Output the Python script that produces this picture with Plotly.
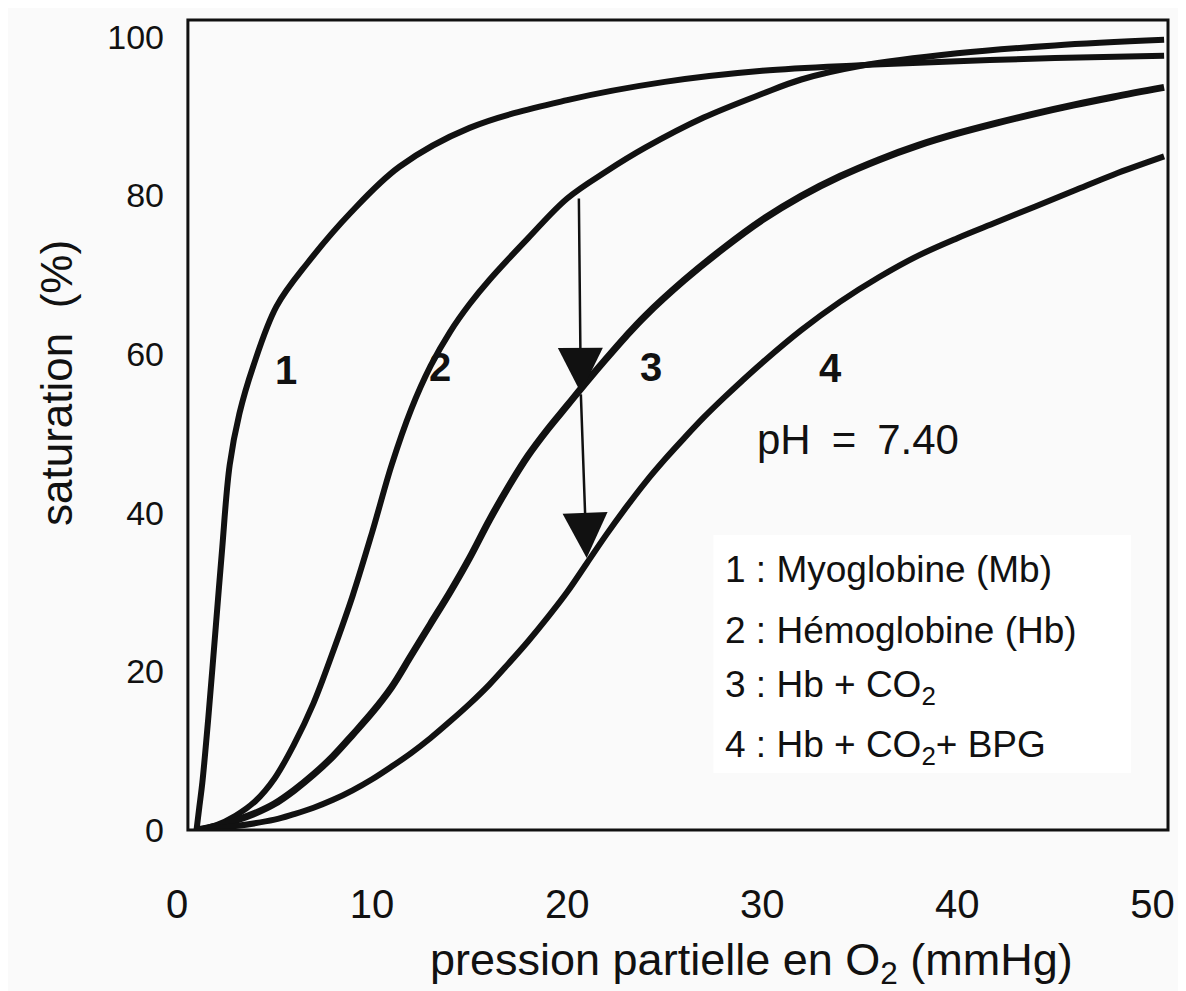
import plotly.graph_objects as go

# ---- data ----
mb_p = [1.0, 1.15, 1.3, 1.6, 2.0, 2.3, 2.7, 3.2, 3.9, 5.1, 6.7, 8.9, 11.4, 15, 20, 25, 30, 35, 40, 45, 50.6]
mb_s = [0, 3, 6, 14, 26, 35, 46, 52.5, 58.4, 66, 71.5, 77.8, 83.6, 88.5, 92, 94.3, 95.7, 96.4, 96.9, 97.3, 97.6]

hb_p = [1, 2, 3, 4, 5, 6, 7, 8, 9, 10, 11, 12, 13, 14, 15, 16, 18, 20, 22, 24, 27, 30, 32, 35, 40, 45, 50.6]
hb_s = [0, 0.6, 1.8, 3.6, 6.5, 10.8, 16, 22.5, 29.5, 37.5, 46, 53, 58.5, 62.8, 66.3, 69.3, 74.6, 79.6, 83, 86, 89.8, 92.8, 94.6, 96.3, 97.9, 98.9, 99.6]

co2_p = [1, 2, 3, 4, 5, 6, 7, 8, 9, 10, 11, 12, 13, 14, 15, 16, 17, 18, 19, 20, 21, 22, 23, 24, 26, 28,
         30, 32, 34, 36, 38, 40, 42, 44, 46, 48, 50.6]
co2_s = [0, 0.5, 1.2, 2.1, 3.3, 5, 7, 9.3, 12, 14.8, 18, 22, 26, 30, 34.3, 39, 43.3, 47.2, 50.5, 53.5, 56.5, 59.4, 62.2,
         64.8, 69.3, 73.3, 76.9, 79.9, 82.4, 84.5, 86.3, 87.8, 89.1, 90.3, 91.4, 92.4, 93.6]

bpg_p = [1, 3, 5, 6, 7, 8, 9, 10, 11, 12, 13, 14, 15, 16, 17, 18, 19, 20, 21, 22, 23, 24, 25, 26, 27, 28, 29,
         30, 32, 34, 36, 38, 40, 42, 44, 46, 48, 50.6]
bpg_s = [0, 0.5, 1.3, 2, 2.8, 3.8, 5, 6.4, 8, 9.7, 11.6, 13.7, 15.9, 18.3, 21, 23.8, 26.8, 30, 33.6, 37.2, 40.6,
         43.8, 46.7, 49.4, 52, 54.4, 56.7, 58.9, 63, 66.6, 69.7, 72.4, 74.6, 76.6, 78.6, 80.6, 82.6, 84.9]

x_ticks = [0, 10, 20, 30, 40, 50]
y_ticks = [0, 20, 40, 60, 80, 100]

curve_labels = ["1", "2", "3", "4"]
curve_label_x = [5.6, 13.5, 24.3, 33.5]
curve_label_y = [58.0, 58.4, 58.3, 58.2]

legend_lines = ["1 : Myoglobine (Mb)", "2 : Hémoglobine (Hb)",
                "3 : Hb + CO<sub>2</sub>", "4 : Hb + CO<sub>2</sub>+ BPG"]
legend_y = [32.8, 25.2, 18.0, 10.5]
legend_x = 28.0

ph_text = "pH\u2002=\u20027.40"
ph_xy = (34.9, 49.2)

# arrows: (start x, start y, end x, end y)
arrows = [(20.6, 79.8, 20.7, 55.1), (20.7, 55.1, 21.0, 34.3)]

FONT = "Liberation Sans, Arial, Helvetica, sans-serif"
INK = "#111111"

fig = go.Figure()
for px, sv, w in [(mb_p, mb_s, 6), (hb_p, hb_s, 6), (co2_p, co2_s, 7), (bpg_p, bpg_s, 6)]:
    fig.add_trace(go.Scatter(x=px, y=sv, mode="lines",
                             line=dict(color=INK, width=w, shape="spline", smoothing=1.0),
                             showlegend=False, hoverinfo="skip"))

# legend box (white) and frame
fig.add_shape(type="rect", xref="x", yref="y", x0=27.5, x1=48.9, y0=7.2, y1=37.2,
              fillcolor="white", line=dict(width=0), layer="below")
fig.add_shape(type="rect", xref="paper", yref="paper", x0=0.011, x1=1, y0=0, y1=1,
              line=dict(color=INK, width=3), fillcolor="rgba(0,0,0,0)")

for t, lx, ly in zip(curve_labels, curve_label_x, curve_label_y):
    fig.add_annotation(x=lx, y=ly, text="<b>%s</b>" % t, showarrow=False,
                       font=dict(family=FONT, size=40, color=INK))

fig.add_annotation(x=ph_xy[0], y=ph_xy[1], text=ph_text, showarrow=False,
                   font=dict(family=FONT, size=42, color=INK))

for t, ly in zip(legend_lines, legend_y):
    fig.add_annotation(x=legend_x, y=ly, text=t, showarrow=False, xanchor="left",
                       font=dict(family=FONT, size=37, color=INK))

for (x0, y0, x1, y1) in arrows:
    fig.add_annotation(x=x1, y=y1, ax=x0, ay=y0, xref="x", yref="y", axref="x", ayref="y",
                       text="", showarrow=True, arrowhead=2, arrowsize=3.6, arrowwidth=2.5,
                       arrowcolor=INK, standoff=0)

# axis titles as annotations (offset as in the reference)
fig.add_annotation(xref="paper", yref="paper", x=0.58, y=-0.163, xanchor="center", yanchor="middle",
                   text="pression partielle en O<sub>2</sub> (mmHg)", showarrow=False,
                   font=dict(family=FONT, size=45, color=INK))
fig.add_annotation(xref="paper", yref="paper", x=-0.121, y=0.552, xanchor="center", yanchor="middle",
                   textangle=-90, text="saturation\u00a0\u00a0(%)", showarrow=False,
                   font=dict(family=FONT, size=44, color=INK))

fig.update_xaxes(range=[0, 50.8], tickvals=x_ticks, ticktext=[str(v) for v in x_ticks],
                 showgrid=False, zeroline=False, showline=False, ticks="", automargin=False,
                 tickfont=dict(family=FONT, size=40, color=INK), ticklabelstandoff=47)
fig.update_yaxes(range=[0, 102.1], tickvals=y_ticks, ticktext=[str(v) for v in y_ticks],
                 showgrid=False, zeroline=False, showline=False, ticks="", automargin=False,
                 tickfont=dict(family=FONT, size=34, color=INK), ticklabelstandoff=12)

# page body has an 8px margin: shrink the figure so the plot lands where the reference has it
fig.update_layout(width=1178, height=983, margin=dict(l=169, r=18, t=12, b=161),
                  paper_bgcolor="#fafafa", plot_bgcolor="#fafafa", showlegend=False)

fig.write_html("out.html")
